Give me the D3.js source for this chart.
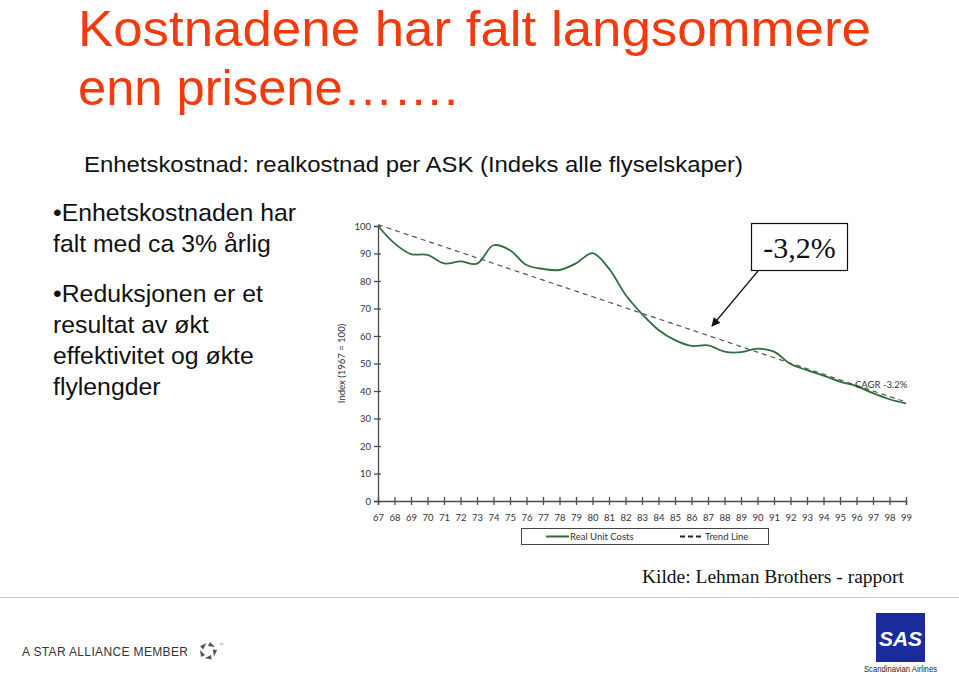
<!DOCTYPE html>
<html>
<head>
<meta charset="utf-8">
<script src="https://cdn.jsdelivr.net/npm/d3@7"></script>
<style>
  html, body { margin: 0; padding: 0; background: #fff; }
  svg { display: block; }
</style>
</head>
<body>
<svg id="chart" width="959" height="674"></svg>
<script>
// ---------- data ----------
const years = [67,68,69,70,71,72,73,74,75,76,77,78,79,80,81,82,83,84,85,86,87,88,89,90,91,92,93,94,95,96,97,98,99];
const realUnitCosts = [100,93.7,89.8,89.5,86.4,87.1,86.3,93.0,91.2,85.8,84.4,84.0,86.4,90.1,84.5,75.0,68.0,62.2,58.5,56.4,56.6,54.3,54.1,55.4,54.3,49.8,47.6,45.6,43.4,41.8,39.2,37.0,35.5];
const trendYears = [67, 99];
const trendValues = [100.5, 36];
const yTicks = [0,10,20,30,40,50,60,70,80,90,100];
const xTickLabels = years.map(d => String(d));
const titleLines = ["Kostnadene har falt langsommere", "enn prisene……."];
const subtitle = "Enhetskostnad: realkostnad per ASK (Indeks alle flyselskaper)";
const bulletLines = ["•Enhetskostnaden har", "falt med ca 3% årlig", "•Reduksjonen er et", "resultat av økt", "effektivitet og økte", "flylengder"];
const bulletBaselines = [221, 252, 302, 333, 364, 395];
const annotation = "-3,2%";
const cagrLabel = "CAGR -3.2%";
const legendLabels = ["Real Unit Costs", "Trend Line"];
const source = "Kilde: Lehman Brothers - rapport";

// ---------- setup ----------
const svg = d3.select("#chart");
const green = "#2f6d3c";
const axisColor = "#4a4a4a";
const tickFont = "Lato, 'DejaVu Sans', sans-serif";
const titleWidths = [793, 380];

// Title
svg.selectAll("text.title").data(titleLines).join("text")
  .attr("class", "title")
  .attr("x", 78).attr("y", (d, i) => 46 + i * 59)
  .attr("font-family", "'Liberation Sans', Arial, sans-serif")
  .attr("font-size", 50)
  .attr("textLength", (d, i) => titleWidths[i]).attr("lengthAdjust", "spacingAndGlyphs")
  .attr("fill", "#f23a0c")
  .text(d => d);

// Subtitle
svg.append("text")
  .attr("x", 84).attr("y", 172)
  .attr("font-family", "'Liberation Sans Narrow', 'Liberation Sans', Arial, sans-serif")
  .attr("font-size", 22)
  .attr("textLength", 659).attr("lengthAdjust", "spacingAndGlyphs")
  .attr("fill", "#111")
  .text(subtitle);

// Bullet text
svg.selectAll("text.bullet").data(bulletLines).join("text")
  .attr("class", "bullet")
  .attr("x", 53).attr("y", (d, i) => bulletBaselines[i])
  .attr("font-family", "'Liberation Sans', Arial, sans-serif")
  .attr("font-size", 24.8)
  .attr("fill", "#111")
  .text(d => d);

// ---------- chart ----------
const x = d3.scaleLinear().domain([67, 99]).range([378, 906]);
const y = d3.scaleLinear().domain([0, 100]).range([501, 226]);

const g = svg.append("g");

// Y axis
const yAxis = g.append("g")
  .attr("transform", `translate(${x(67)},0)`)
  .call(d3.axisLeft(y).tickValues(yTicks).tickSize(4).tickPadding(5));
yAxis.select(".domain").attr("stroke", axisColor).attr("stroke-width", 1.3);
yAxis.selectAll(".tick line").attr("x1", -4).attr("x2", 3).attr("stroke", axisColor).attr("stroke-width", 1.3);
yAxis.selectAll(".tick text").attr("font-family", tickFont).attr("font-size", 9.5).attr("fill", "#333").attr("x", -7);

// X axis
const xAxis = g.append("g")
  .attr("transform", `translate(0,${y(0)})`)
  .call(d3.axisBottom(x).tickValues(years).tickFormat((d, i) => xTickLabels[i]).tickSize(4).tickPadding(9));
xAxis.select(".domain").attr("stroke", axisColor).attr("stroke-width", 1.3);
xAxis.selectAll(".tick line").attr("y1", -4).attr("y2", 4).attr("stroke", axisColor).attr("stroke-width", 1.3);
xAxis.selectAll(".tick text").attr("font-family", tickFont).attr("font-size", 9.5).attr("fill", "#333");

// Y axis label
g.append("text")
  .attr("transform", `translate(345,${(y(0) + y(100)) / 2}) rotate(-90)`)
  .attr("text-anchor", "middle")
  .attr("font-family", tickFont)
  .attr("font-size", 9.5)
  .attr("fill", "#333")
  .text("Index (1967 = 100)");

// Trend line
const trendData = trendYears.map((d, i) => [d, trendValues[i]]);
g.append("path")
  .datum(trendData)
  .attr("d", d3.line().x(d => x(d[0])).y(d => y(d[1])))
  .attr("fill", "none")
  .attr("stroke", "#555")
  .attr("stroke-width", 1.2)
  .attr("stroke-dasharray", "5,4");

// Real unit costs
const costData = years.map((d, i) => [d, realUnitCosts[i]]);
g.append("path")
  .datum(costData)
  .attr("d", d3.line().curve(d3.curveCatmullRom.alpha(0.5)).x(d => x(d[0])).y(d => y(d[1])))
  .attr("fill", "none")
  .attr("stroke", green)
  .attr("stroke-width", 1.8);

// CAGR label
g.append("text")
  .attr("x", 855).attr("y", 388)
  .attr("font-family", tickFont)
  .attr("font-size", 9.5)
  .attr("fill", "#333")
  .text(cagrLabel);

// Legend
const lg = g.append("g");
lg.append("rect").attr("x", 521.5).attr("y", 528.5).attr("width", 247).attr("height", 16)
  .attr("fill", "#fff").attr("stroke", "#444").attr("stroke-width", 1);
lg.append("line").attr("x1", 546).attr("x2", 569).attr("y1", 536.5).attr("y2", 536.5)
  .attr("stroke", green).attr("stroke-width", 2);
lg.append("text").attr("x", 570).attr("y", 540).attr("font-family", tickFont).attr("font-size", 9.5).attr("fill", "#333").text(legendLabels[0]);
lg.append("line").attr("x1", 680).attr("x2", 701).attr("y1", 536.5).attr("y2", 536.5)
  .attr("stroke", "#222").attr("stroke-width", 1.8).attr("stroke-dasharray", "5,3");
lg.append("text").attr("x", 705).attr("y", 540).attr("font-family", tickFont).attr("font-size", 9.5).attr("fill", "#333").text(legendLabels[1]);

// Annotation box + arrow
const defs = svg.append("defs");
defs.append("marker").attr("id", "arrow").attr("viewBox", "0 0 10 10")
  .attr("refX", 9).attr("refY", 5).attr("markerWidth", 9).attr("markerHeight", 9)
  .attr("orient", "auto").attr("markerUnits", "userSpaceOnUse")
  .append("path").attr("d", "M0,0 L10,5 L0,10 z").attr("fill", "#111");
svg.append("rect").attr("x", 751.5).attr("y", 223.5).attr("width", 96).attr("height", 47)
  .attr("fill", "#fff").attr("stroke", "#111").attr("stroke-width", 1.2);
svg.append("text").attr("x", 799.5).attr("y", 258).attr("text-anchor", "middle")
  .attr("font-family", "'Liberation Serif', 'Times New Roman', serif").attr("font-size", 30)
  .attr("fill", "#111").text(annotation);
svg.append("line").attr("x1", 758).attr("y1", 271).attr("x2", 712).attr("y2", 326)
  .attr("stroke", "#111").attr("stroke-width", 1.2).attr("marker-end", "url(#arrow)");

// Source
svg.append("text").attr("x", 904).attr("y", 583).attr("text-anchor", "end")
  .attr("font-family", "'Liberation Serif', 'Times New Roman', serif").attr("font-size", 19.5)
  .attr("fill", "#111").text(source);

// Separator line
svg.append("line").attr("x1", 0).attr("x2", 959).attr("y1", 597.5).attr("y2", 597.5)
  .attr("stroke", "#c8c8c8").attr("stroke-width", 1);

// Star Alliance
svg.append("text").attr("x", 22).attr("y", 656)
  .attr("font-family", "'Liberation Sans', Arial, sans-serif").attr("font-size", 12)
  .attr("textLength", 166).attr("lengthAdjust", "spacing")
  .attr("fill", "#333").text("A STAR ALLIANCE MEMBER");
const star = svg.append("g").attr("transform", "translate(208,651)");
[0, 72, 144, 216, 288].forEach(a => {
  star.append("path").attr("d", "M2,-9 L7,-4 L0,-5 z")
    .attr("transform", `rotate(${a})`).attr("fill", "#555");
});
svg.append("text").attr("x", 219).attr("y", 646).attr("font-family", "sans-serif").attr("font-size", 4).attr("fill", "#555").text("™");

// SAS logo
svg.append("rect").attr("x", 876).attr("y", 613).attr("width", 49).attr("height", 49).attr("fill", "#1a2c9c");
svg.append("text").attr("x", 900.5).attr("y", 646).attr("text-anchor", "middle")
  .attr("font-family", "'Liberation Sans', Arial, sans-serif").attr("font-weight", "bold").attr("font-style", "italic")
  .attr("font-size", 21).attr("fill", "#fff").text("SAS");
svg.append("text").attr("x", 900.5).attr("y", 672).attr("text-anchor", "middle")
  .attr("font-family", "'Liberation Sans Narrow', 'Liberation Sans', Arial, sans-serif")
  .attr("font-size", 9).attr("textLength", 73).attr("lengthAdjust", "spacingAndGlyphs")
  .attr("fill", "#222").text("Scandinavian Airlines");
</script>
</body>
</html>
